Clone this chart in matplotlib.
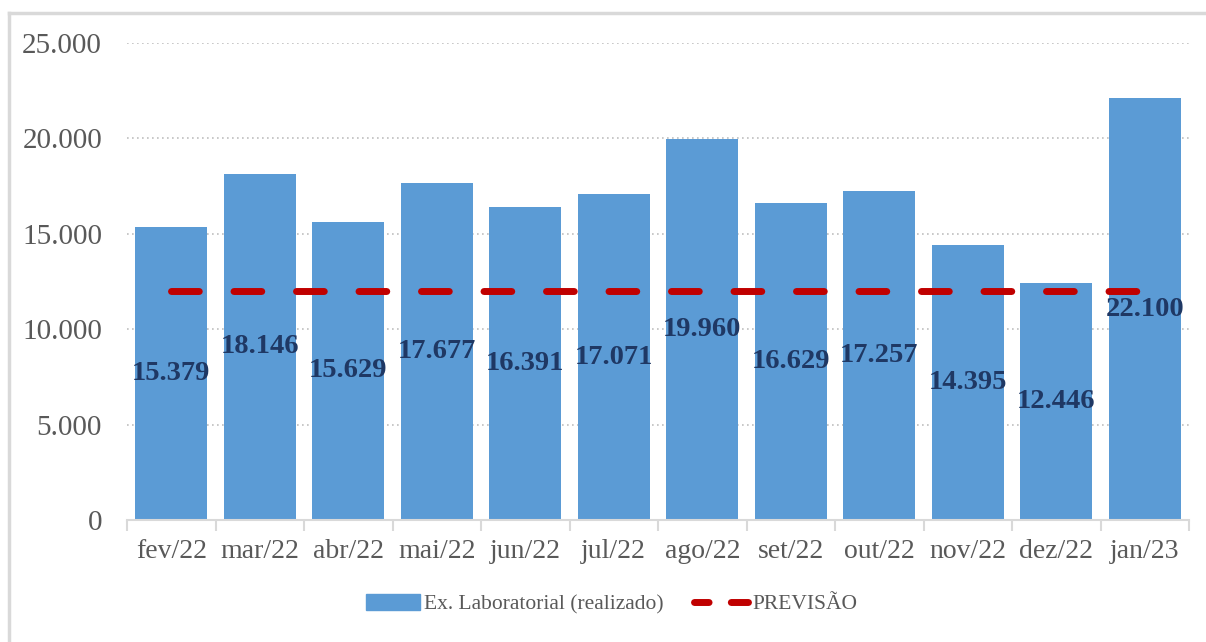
import matplotlib.pyplot as plt
from matplotlib.lines import Line2D
from matplotlib.patches import Patch

meses = ["fev/22", "mar/22", "abr/22", "mai/22", "jun/22", "jul/22",
         "ago/22", "set/22", "out/22", "nov/22", "dez/22", "jan/23"]
realizado = [15379, 18146, 15629, 17677, 16391, 17071,
             19960, 16629, 17257, 14395, 12446, 22100]
previsao = [12000] * 12
yticks = [0, 5000, 10000, 15000, 20000, 25000]

AZUL = "#5B9BD5"
VERMELHO = "#C00000"
CINZA = "#595959"

plt.rcParams['font.family'] = ['Liberation Serif', 'DejaVu Serif']

fig = plt.figure(figsize=(12.06, 6.42), dpi=100)
ax = fig.add_axes([127/1206, 1 - 520/642, (1189 - 127)/1206, (520 - 43)/642])

x = list(range(len(meses)))
ax.bar(x, realizado, width=0.81, color=AZUL, zorder=2)
ax.plot(x, previsao, color=VERMELHO, lw=5, ls=(0, (4, 5)),
        dash_capstyle='round', zorder=3)

for xi, v in zip(x, realizado):
    txt = f"{v:,}".replace(",", ".")
    ax.text(xi, v / 2, txt, ha='center', va='center', fontsize=20.5,
            fontweight='bold', color="#1F3864", zorder=4)

ax.set_xlim(-0.5, len(meses) - 0.5)
ax.set_ylim(0, 25000)
ax.set_yticks(yticks)
ax.set_yticklabels([f"{t:,}".replace(",", ".") for t in yticks])
ax.tick_params(axis='y', length=0, labelsize=21, labelcolor=CINZA, pad=18)

ax.set_xticks(x)
ax.set_xticklabels(meses)
ax.tick_params(axis='x', length=0, labelsize=20, labelcolor=CINZA, pad=14)
ax.set_xticks([i - 0.5 for i in range(len(meses) + 1)], minor=True)
ax.tick_params(axis='x', which='minor', length=8, width=1.5, color="#D9D9D9")

for t in yticks[1:]:
    ax.axhline(t, color="#BFBFBF", lw=1.2, ls=(0, (1, 2)), zorder=1)

for s in ['top', 'right', 'left']:
    ax.spines[s].set_visible(False)
ax.spines['bottom'].set_color("#D9D9D9")
ax.spines['bottom'].set_linewidth(1.5)

handles = [Patch(color=AZUL, label="Ex. Laboratorial (realizado)"),
           Line2D([0], [0], color=VERMELHO, lw=5, ls=(0.5, (2.6, 3.2)),
                  dash_capstyle='round', label="PREVISÃO")]
fig.legend(handles=handles, loc='center', bbox_to_anchor=(0.507, 1 - 604/642),
           ncol=2, frameon=False, fontsize=15.5, labelcolor=CINZA,
           handlelength=2.5, handleheight=0.75, columnspacing=1.4, handletextpad=0.2)

# moldura do gráfico
fig.add_artist(Line2D([9/1206, 1], [1 - 13/642, 1 - 13/642], color="#D9D9D9", lw=2.5,
                      transform=fig.transFigure))
fig.add_artist(Line2D([9/1206, 9/1206], [0, 1 - 13/642], color="#D9D9D9", lw=2.5,
                      transform=fig.transFigure))

fig.savefig("out.png", dpi=100)
